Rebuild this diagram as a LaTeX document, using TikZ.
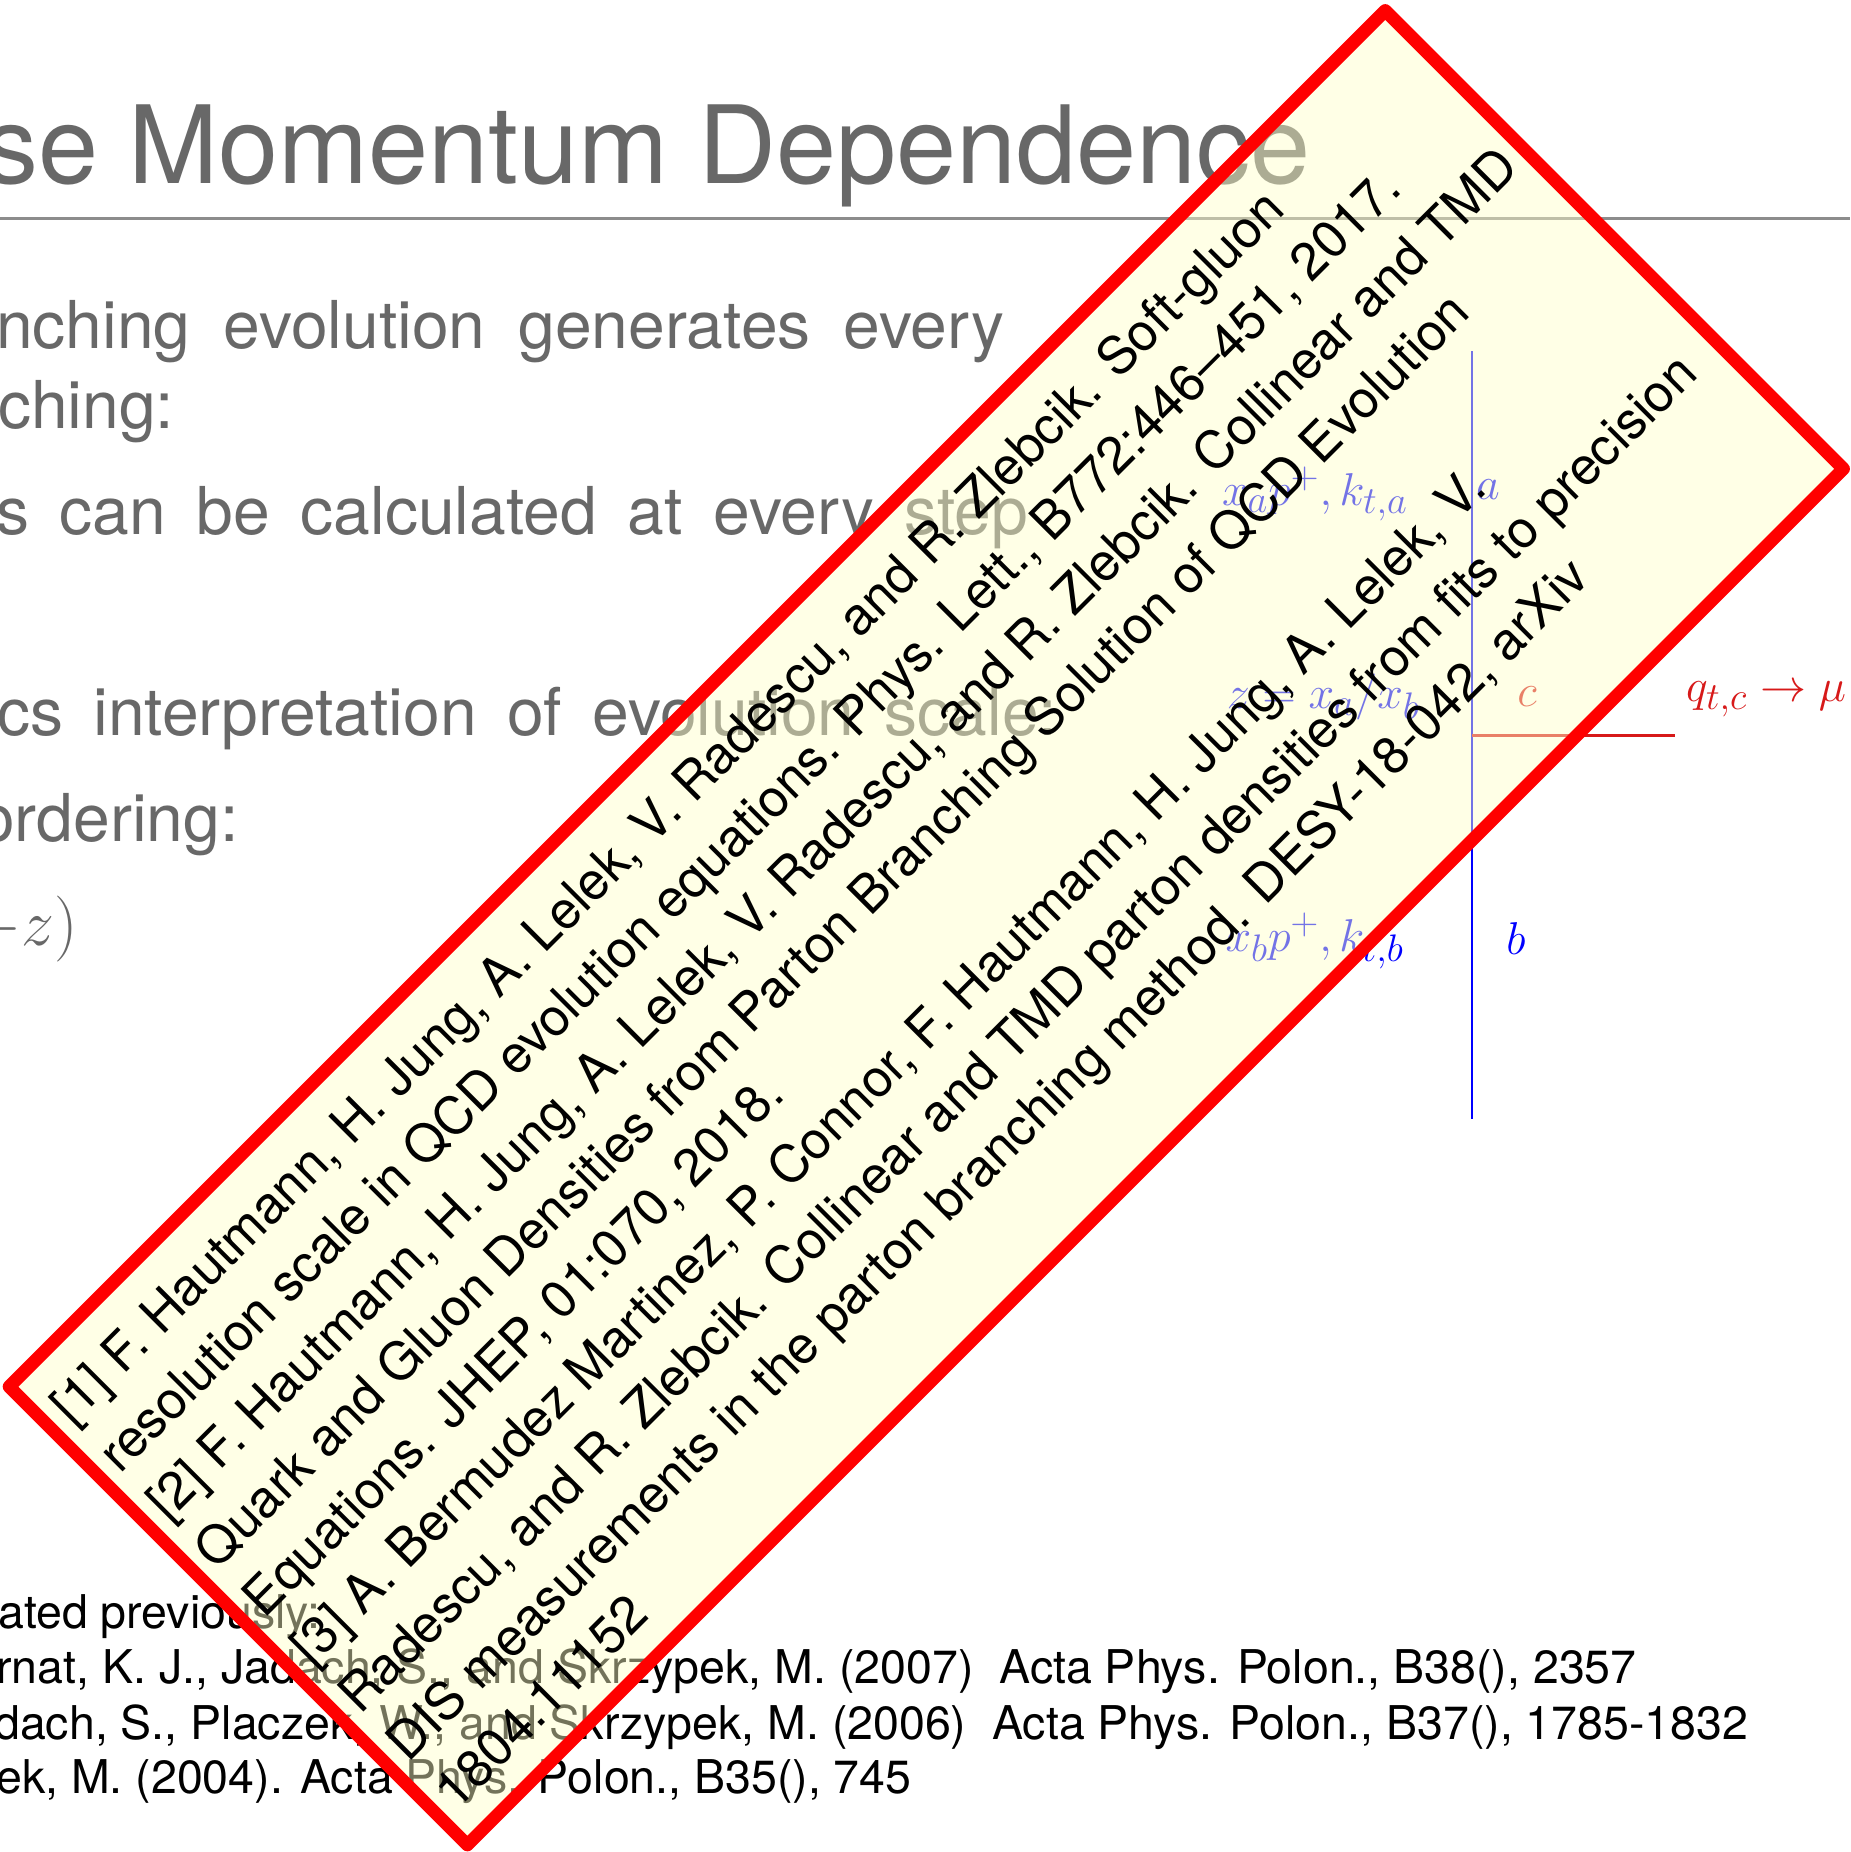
\documentclass[tikz,border=0pt]{standalone}
\usepackage[no-math]{fontspec}
\setmainfont{TeX Gyre Heros}

\definecolor{slidegray}{RGB}{104,104,104}
\definecolor{rulegray}{RGB}{140,140,140}
\definecolor{notefill}{RGB}{255,255,200}
\definecolor{notered}{RGB}{255,0,0}
\definecolor{gluonred}{RGB}{215,25,25}

% math set at a design size of the math fonts, then enlarged
\newcommand{\bigmath}[2]{\scalebox{#1}{\fontsize{24.88}{30}\selectfont$#2$}}

\tikzset{
  slidetitle/.style={anchor=base east, text=slidegray, inner sep=0pt,
    font=\fontsize{108}{130}\selectfont},
  slidebody/.style={anchor=base west, text=slidegray, inner sep=0pt,
    font=\fontsize{66}{80}\selectfont},
  refline/.style={anchor=base west, text=black, inner sep=0pt,
    font=\fontsize{46.5}{55}\selectfont},
  notebox/.style={draw=notered, line width=13pt, line join=round,
    fill=notefill, fill opacity=0.45},
  noteline/.style={anchor=base west, inner sep=0pt, transform shape,
    font=\fontsize{52}{62}\selectfont},
  lbl/.style={inner sep=0pt},
  propline/.style={line width=2pt},
}

\begin{document}
\begin{tikzpicture}[x=1pt,y=-1pt]
\fill[white] (0,0) rectangle (1850,1852);
\useasboundingbox (0,0) rectangle (1850,1852);

% slide heading and rule
\node[slidetitle] (title) at (1311,183) {se Momentum Dependence};
\coordinate (ruleL) at (0,218.5);
\coordinate (ruleR) at (1850,218.5);
\draw[rulegray, line width=2.5pt] (ruleL) -- (ruleR);

% slide body
\node[slidebody] (b1) at (-4,348)
  {\hbox to 1008pt{nching\hfill evolution\hfill generates\hfill every}};
\node[slidebody] (b2) at (-2,428) {ching:};
\node[slidebody] (b3) at (-4,534)
  {\hbox to 1032pt{s\hfill can\hfill be\hfill calculated\hfill at\hfill every\hfill step}};
\node[slidebody] (b4) at (-3,735)
  {\hbox to 1060pt{cs\hfill interpretation\hfill of\hfill evolution\hfill scale:}};
\node[slidebody] (b5) at (-22,841) {ordering:};
\node[slidebody, anchor=base east] (b6) at (78,945) {\bigmath{2.65}{-z)}};

% references at the foot of the slide
\node[refline] (r0) at (-2,1628) {ated previously:};
\node[refline] (r1) at (-4,1683)
  {rnat, K. J., Jadach, S., and Skrzypek, M. (2007)\ \ Acta Phys. Polon., B38(), 2357};
\node[refline] (r2) at (-6,1739)
  {dach, S., Placzek, W., and Skrzypek, M. (2006)\ \ Acta Phys. Polon., B37(), 1785-1832};
\node[refline] (r3) at (-4,1793) {ek, M. (2004). Acta Phys. Polon., B35(), 745};

% branching diagram
\coordinate (atop) at (1472,351);
\coordinate (vtx) at (1472,735);
\coordinate (bbot) at (1472,1119);
\coordinate (cend) at (1675,735);
\draw[propline, blue] (atop) -- (vtx);
\draw[propline, blue] (vtx) -- (bbot);
\draw[propline, gluonred, line width=3pt] (vtx) -- (cend);

\node[lbl, text=blue] (la) at (1488,490) {\bigmath{1.85}{a}};
\node[lbl, text=blue, anchor=east] (lka) at (1408,494) {\bigmath{1.85}{x_a p^+, k_{t,a}}};
\node[lbl, text=blue, anchor=east] (lz) at (1420,697) {\bigmath{1.85}{z = x_a/x_b}};
\node[lbl, text=gluonred] (lc) at (1527,697) {\bigmath{1.85}{c}};
\node[lbl, text=gluonred, anchor=west] (lq) at (1686,699) {\bigmath{1.85}{q_{t,c} \to \mu}};
\node[lbl, text=blue, anchor=east] (lkb) at (1404,941) {\bigmath{1.85}{x_b p^+, k_{t,b}}};
\node[lbl, text=blue] (lb) at (1516,939) {\bigmath{1.85}{b}};

% tilted note with the reference list
\begin{scope}[rotate=45]
  \draw[notebox] (-974,987) rectangle (972,1635);
  \node[noteline] (n1) at (-958,1060)
    {[1] F. Hautmann, H. Jung, A. Lelek, V. Radescu, and R. Zlebcik. Soft-gluon};
  \node[noteline] (n2) at (-958,1128)
    {resolution scale in QCD evolution equations. Phys. Lett., B772:446--451, 2017.};
  \node[noteline] (n3) at (-958,1196)
    {[2] F. Hautmann, H. Jung, A. Lelek, V. Radescu, and R. Zlebcik. Collinear and TMD};
  \node[noteline] (n4) at (-958,1264)
    {Quark and Gluon Densities from Parton Branching Solution of QCD Evolution};
  \node[noteline] (n5) at (-958,1332)
    {Equations. JHEP, 01:070, 2018.};
  \node[noteline] (n6) at (-958,1400)
    {[3] A. Bermudez Martinez, P. Connor, F. Hautmann, H. Jung, A. Lelek, V.};
  \node[noteline] (n7) at (-958,1468)
    {Radescu, and R. Zlebcik. Collinear and TMD parton densities from fits to precision};
  \node[noteline] (n8) at (-958,1536)
    {DIS measurements in the parton branching method. DESY-18-042, arXiv};
  \node[noteline] (n9) at (-958,1604) {1804.11152};
\end{scope}
\end{tikzpicture}
\end{document}
